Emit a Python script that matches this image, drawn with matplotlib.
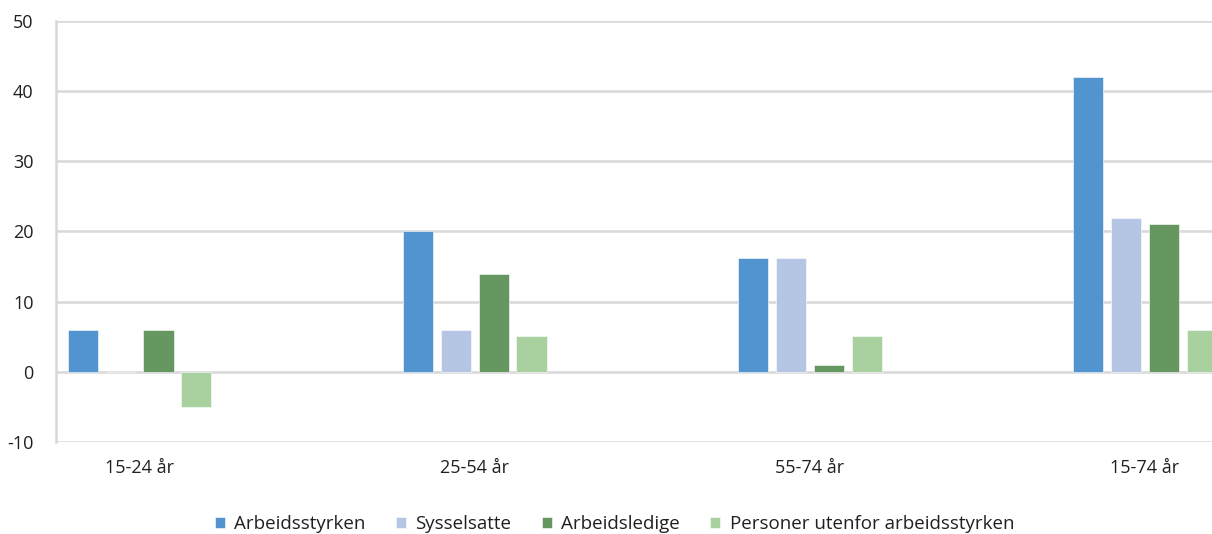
import numpy as np
import matplotlib.pyplot as plt

# Endring i arbeidsstyrken etter aldersgruppe
groups = ["15-24 år", "25-54 år", "55-74 år", "15-74 år"]
series = ["Arbeidsstyrken", "Sysselsatte", "Arbeidsledige", "Personer utenfor arbeidsstyrken"]
arbeidsstyrken = [6, 20, 16.2, 42]
sysselsatte = [0, 6, 16.2, 21.9]
arbeidsledige = [6, 14, 1, 21.1]
utenfor = [-5, 5.1, 5.1, 6]
colors = ["#5294cf", "#b4c6e4", "#669760", "#a9d19f"]

plt.rcParams['font.family'] = ['Open Sans', 'DejaVu Sans']
plt.rcParams['axes.unicode_minus'] = False

fig = plt.figure(figsize=(12.12, 5.34), dpi=100)
ax = fig.add_axes([0.046, 0.172, 0.954, 0.789])

x = np.arange(len(groups))
step = 0.113
width = 0.09
for i, (name, vals) in enumerate(zip(series, [arbeidsstyrken, sysselsatte, arbeidsledige, utenfor])):
    ax.bar(x + (i - 1.5) * step, vals, width=width, color=colors[i],
           edgecolor='white', linewidth=0.4, label=name, zorder=3)

ax.set_ylim(-10, 50)
ax.set_yticks(np.arange(-10, 51, 10))
ax.set_xlim(-0.25, 3.2)
ax.set_xticks(x)
ax.set_xticklabels(groups)
ax.grid(axis='y', color='#d8d8d8', linewidth=1.8, zorder=0)
ax.set_axisbelow(True)
for s in ['top', 'right', 'bottom']:
    ax.spines[s].set_visible(False)
ax.spines['left'].set_color('#d8d8d8')
ax.spines['left'].set_linewidth(1.8)
ax.tick_params(axis='y', length=0, pad=16, labelsize=13, labelcolor='#231f20')
ax.tick_params(axis='x', length=0, pad=12, labelsize=13, labelcolor='#231f20')

fig.legend(loc='center', bbox_to_anchor=(0.507, 0.018), ncol=4, frameon=False,
           fontsize=13.5, handlelength=0.55, handleheight=0.55, handletextpad=0.5,
           columnspacing=1.6, labelcolor='#231f20')

fig.savefig('out.png', dpi=100)
